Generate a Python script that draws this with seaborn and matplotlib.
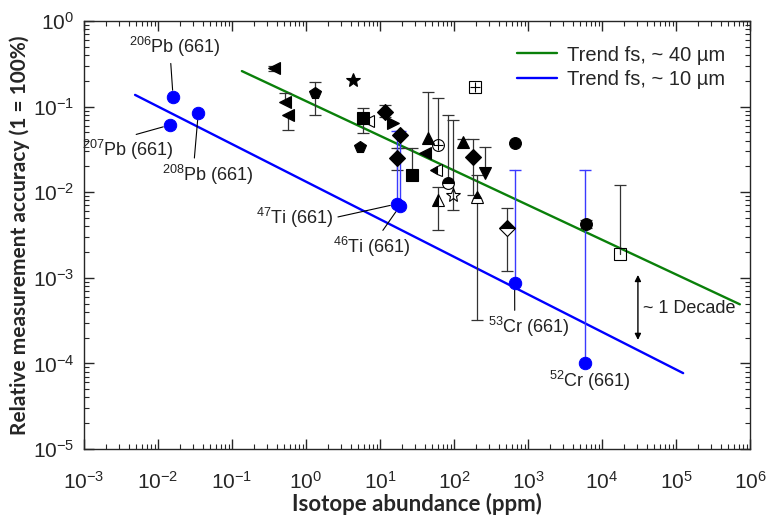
import numpy as np
import matplotlib
matplotlib.use("Agg")
import matplotlib.pyplot as plt
import seaborn as sns

nan = np.nan

# trend lines, end points
trend40_x = [0.136, 7.3e5]
trend40_y = [0.26, 4.9e-4]
trend10_x = [0.0049, 1.25e5]
trend10_y = [0.137, 7.7e-5]

# NIST 661 isotopes (blue points)
nist_x = [0.016, 0.0145, 0.035, 17, 18.6, 660, 5900]
nist_y = [0.129, 0.061, 0.084, 0.0073, 0.0069, 8.7e-4, 1.0e-4]
nist_hi = [nan, nan, nan, 0.052, 0.052, 0.018, 0.018]
nist_text = [r"$\mathdefault{^{206}}$Pb (661)", r"$\mathdefault{^{207}}$Pb (661)",
             r"$\mathdefault{^{208}}$Pb (661)", r"$\mathdefault{^{47}}$Ti (661)",
             r"$\mathdefault{^{46}}$Ti (661)", r"$\mathdefault{^{53}}$Cr (661)",
             r"$\mathdefault{^{52}}$Cr (661)"]
# where the labels sit (data coords)
nist_tx = [0.017, 0.0039, 0.047, 0.70, 7.8, 1020, 6900]
nist_ty = [0.50, 0.031, 0.016, 0.005, 0.0023, 2.66e-4, 6.2e-5]
nist_rel = [(0.45, 0.0), (0.45, 1.0), (0.35, 1.0), (1.0, 0.5), (0.6, 1.0), (0.33, 1.0), None]

# other reference materials (black markers)
blk_x = [0.37, 0.52, 0.57, 1.32, 4.3, 5.9, 6.9, 5.4, 11.7, 15, 18.6, 17, 27, 45, 61,
         40.5, 57, 83, 97, 61, 132, 181, 263, 204, 667, 520, 192, 6000, 1.74e4]
blk_y = [0.28, 0.113, 0.080, 0.144, 0.205, 0.074, 0.068, 0.034, 0.087, 0.064, 0.047,
         0.025, 0.016, 0.043, 0.036, 0.029, 0.018, 0.0128, 0.0093, 0.0081, 0.0386,
         0.0258, 0.0168, 0.0088, 0.0376, 0.0038, 0.17, 0.0042, 0.0019]
blk_lo = [0.26, nan, 0.053, 0.08, nan, 0.049, nan, nan, 0.075, nan, 0.033, 0.018, nan,
          nan, nan, nan, nan, nan, 0.0062, 0.0036, nan, 0.0093, nan, 3.2e-4, nan,
          0.0012, nan, 0.0038, nan]
blk_hi = [0.30, 0.144, nan, 0.194, nan, 0.096, nan, nan, 0.104, nan, nan, 0.033, 0.033,
          0.148, 0.126, nan, nan, 0.08, 0.069, 0.0115, 0.042, 0.042, 0.034, 0.016, nan,
          0.0065, nan, 0.0047, 0.012]
blk_marker = ['<', '<', '<', 'p', '*', 's', '<', 'p', 'D', '>', 'D', 'D', 's', '^', 'o',
              '<', '<', 'o', '*', '^', '^', 'D', 'v', '^', 'o', 'D', 's', 'o', 's']
blk_fill = ['full', 'full', 'full', 'full', 'full', 'full', 'none', 'full', 'full', 'full',
            'full', 'full', 'full', 'full', 'none', 'full', 'left', 'top', 'none', 'left',
            'full', 'full', 'full', 'top', 'full', 'top', 'none', 'full', 'none']
blk_cross = [False] * 14 + [True] + [False] * 11 + [True] + [False] * 2

x_ticks = [10.0 ** k for k in range(-3, 7)]
y_ticks = [10.0 ** k for k in range(-5, 1)]

sns.set_style("ticks")
plt.rcParams['font.family'] = ['Liberation Sans', 'DejaVu Sans']
plt.rcParams['mathtext.fontset'] = 'custom'
plt.rcParams['mathtext.rm'] = 'Liberation Sans'

fig = plt.figure(figsize=(7.67, 5.17), dpi=100)
ax = fig.add_axes([0.1095, 0.1315, 0.8683, 0.8279])
ax.set_xscale('log')
ax.set_yscale('log')

sns.lineplot(x=trend40_x, y=trend40_y, color='#0a800a', lw=1.7, label='Trend fs, ~ 40 µm', ax=ax)
sns.lineplot(x=trend10_x, y=trend10_y, color='#0000ff', lw=1.7, label='Trend fs, ~ 10 µm', ax=ax)

# black error bars and markers
for x, y, lo, hi, m, f, c in zip(blk_x, blk_y, blk_lo, blk_hi, blk_marker, blk_fill, blk_cross):
    top = y if np.isnan(hi) else hi
    bot = y if np.isnan(lo) else lo
    if top != bot:
        ax.plot([x, x], [bot, top], color='#333333', lw=0.9, zorder=2)
    for e in (lo, hi):
        if not np.isnan(e):
            ax.plot([x], [e], marker='_', ms=9, mew=0.9, color='#333333', zorder=2)
    ms = 10.5 if m == '*' else 8.5
    ax.plot([x], [y], marker=m, ms=ms, color='black', mec='black', mew=0.8,
            fillstyle=f, mfc='black' if f != 'none' else 'white',
            markerfacecoloralt='white', zorder=4)
    if c:
        ax.plot([x], [y], marker='+', ms=7, mew=0.8, color='black', zorder=5)

# blue error bars
for x, y, hi in zip(nist_x, nist_y, nist_hi):
    if not np.isnan(hi):
        ax.plot([x, x], [y, hi], color='#3a3aff', lw=1.0, zorder=3)
        ax.plot([x], [hi], marker='_', ms=9, mew=1.0, color='#3a3aff', zorder=3)

sns.scatterplot(x=nist_x, y=nist_y, color='#0000ff', edgecolor='#0000ff', s=80,
                zorder=6, ax=ax, legend=False)

for x, y, t, tx, ty, rel in zip(nist_x, nist_y, nist_text, nist_tx, nist_ty, nist_rel):
    if rel is None:
        ax.text(tx, ty, t, ha='center', va='center', fontsize=13, color='#222222')
    else:
        ax.annotate(t, xy=(x, y), xytext=(tx, ty), ha='center', va='center', fontsize=13,
                    color='#222222',
                    arrowprops=dict(arrowstyle='-', color='black', lw=0.8, relpos=rel,
                                    shrinkA=1, shrinkB=5))

# one decade arrow
ax.annotate('', xy=(3.06e4, 1.88e-4), xytext=(3.06e4, 1.08e-3),
            arrowprops=dict(arrowstyle='<|-|>', color='black', lw=1, mutation_scale=9,
                            shrinkA=0, shrinkB=0))
ax.text(3.6e4, 4.4e-4, '~ 1 Decade', ha='left', va='center', fontsize=13, color='#222222')

ax.set_xticks(x_ticks)
ax.set_yticks(y_ticks)
ax.set_xlim(1e-3, 1e6)
ax.set_ylim(1e-5, 1)
ax.tick_params(which='both', direction='in', top=True, right=True, labelsize=15, pad=7)
ax.tick_params(axis='x', which='both', pad=16)
ax.tick_params(which='major', length=7, width=1)
ax.tick_params(which='minor', length=3.5, width=0.8)
for s in ax.spines.values():
    s.set_linewidth(1)

ax.set_xlabel('Isotope abundance (ppm)', family='Lato', fontweight='bold', fontsize=16, labelpad=0)
ax.set_ylabel('Relative measurement accuracy (1 = 100%)', family='Lato', fontweight='bold',
              fontsize=15, labelpad=2)

ax.legend(loc='upper right', bbox_to_anchor=(0.99, 0.985), frameon=False, fontsize=14.5,
          handlelength=2.0, handletextpad=0.5, labelspacing=0.25)

fig.savefig('out.png', dpi=100)
